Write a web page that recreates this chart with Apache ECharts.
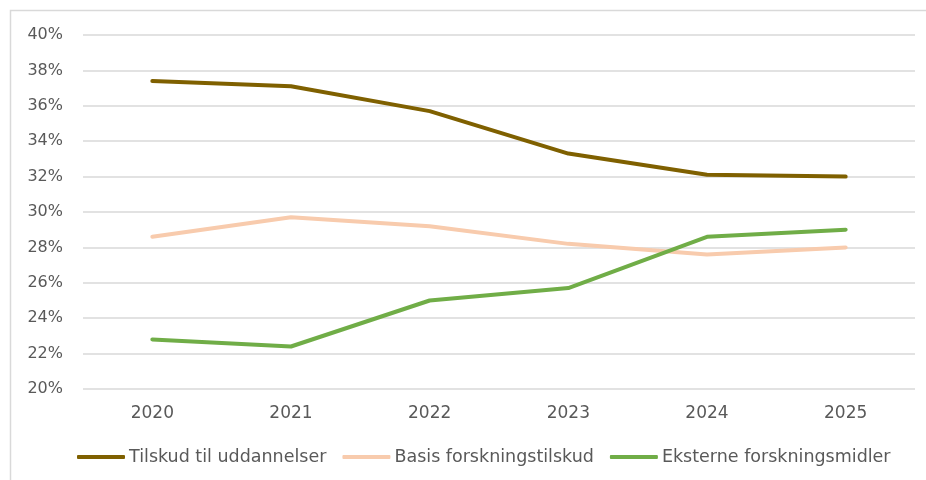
<!DOCTYPE html>
<html>
<head>
<meta charset="utf-8">
<script src="https://cdn.jsdelivr.net/npm/echarts@6/dist/echarts.min.js"></script>
<style>
  html, body { margin: 0; padding: 0; background: #fff; }
  #chart { width: 926px; height: 480px; }
</style>
</head>
<body>
<div id="chart"></div>
<script>
var years = ['2020', '2021', '2022', '2023', '2024', '2025']
var seriesNames = ['Tilskud til uddannelser', 'Basis forskningstilskud', 'Eksterne forskningsmidler']
var tilskud = [37.4, 37.1, 35.7, 33.3, 32.1, 32.0]
var basis = [28.6, 29.7, 29.2, 28.2, 27.6, 28.0]
var eksterne = [22.8, 22.4, 25.0, 25.7, 28.6, 29.0]
var colors = ['#7f6000', '#f8cbad', '#70ad47']

var chart = echarts.init(document.getElementById('chart'))

function makeLine(name, data, color) {
  return {
    name: name,
    type: 'line',
    data: data,
    symbol: 'none',
    lineStyle: { color: color, width: 4, cap: 'round', join: 'round' },
    itemStyle: { color: color }
  }
}

chart.setOption({
  animation: false,
  textStyle: { fontFamily: 'DejaVu Sans' },
  graphic: [{
    type: 'rect',
    shape: { x: 10.5, y: 10.5, width: 930, height: 480 },
    style: { fill: 'none', stroke: '#d9d9d9', lineWidth: 1.5 },
    silent: true
  }],
  legend: {
    bottom: 9,
    left: 72,
    itemWidth: 48,
    itemHeight: 4,
    itemGap: 16,
    icon: 'roundRect',
    textStyle: { color: '#595959', fontSize: 17.5, padding: [0, 0, 0, -1] },
    data: seriesNames
  },
  grid: {
    left: 83,
    right: 11,
    top: 35,
    bottom: 91
  },
  xAxis: {
    type: 'category',
    data: years,
    axisLine: { show: false },
    axisTick: { show: false },
    axisLabel: { color: '#595959', fontSize: 17, margin: 16 }
  },
  yAxis: {
    type: 'value',
    min: 20,
    max: 40,
    interval: 2,
    axisLabel: {
      color: '#595959',
      fontSize: 16,
      margin: 20,
      formatter: function (v) { return v + '%' }
    },
    splitLine: { lineStyle: { color: '#d9d9d9', width: 1.5 } }
  },
  series: [
    makeLine(seriesNames[0], tilskud, colors[0]),
    makeLine(seriesNames[1], basis, colors[1]),
    makeLine(seriesNames[2], eksterne, colors[2])
  ]
})
</script>
</body>
</html>
